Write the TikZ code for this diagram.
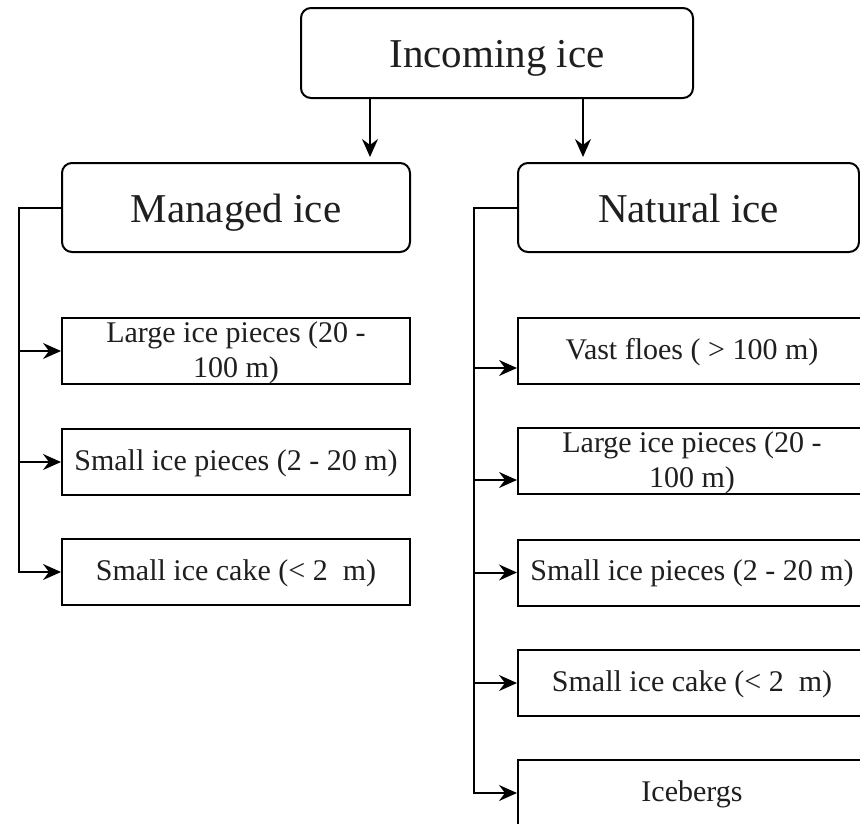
\documentclass[tikz,border=0pt]{standalone}
\usepackage{fontspec}
\setmainfont{Liberation Serif}
\usetikzlibrary{arrows.meta}
\begin{document}
\begin{tikzpicture}[x=1pt,y=-1pt,
  line width=2pt,
  headbox/.style={draw, rounded corners=10pt, inner sep=0pt,
    text height=37pt, text depth=8pt,
    font=\fontsize{41}{46}\selectfont, text=black!88},
  itembox/.style={draw, inner sep=0pt, minimum width=348pt, minimum height=66pt,
    text height=22pt, text depth=6pt,
    font=\fontsize{30}{35}\selectfont, text=black!88},
  twoline/.style={text height=59pt, text depth=6pt},
  arr/.style={-{Stealth[length=18pt,width=16pt,inset=6pt]}}]
\clip (0,0) rectangle (860,823);
\fill[white] (0,0) rectangle (860,823);

% top level
\node[headbox, minimum width=392pt, minimum height=90pt] (inc) at (497,53) {Incoming ice};
\node[headbox, minimum width=348pt, minimum height=89pt] (man) at (236,207.5) {Managed ice};
\node[headbox, minimum width=341pt, minimum height=89pt] (nat) at (688.5,207.5) {Natural ice};

\draw[arr, shorten >=5pt] (inc.south -| 370,0) -- (man.north -| 370,0);
\draw[arr, shorten >=5pt] (inc.south -| 583,0) -- (nat.north -| 583,0);

% managed ice classes
\node[itembox, twoline] (mlarge) at (236,351)
  {\begin{tabular}[b]{@{}c@{}}Large ice pieces (20 -\\100 m)\end{tabular}};
\node[itembox] (msmall) at (236,462) {Small ice pieces (2 - 20 m)};
\node[itembox] (mcake)  at (236,572) {Small ice cake (< 2~~m)};

\coordinate (lt) at (19,0);
\draw[arr] (man.west) -| (lt |- mcake.west) -- (mcake.west);
\draw[arr] (lt |- mlarge.west) -- (mlarge.west);
\draw[arr] (lt |- msmall.west) -- (msmall.west);

% natural ice classes
\node[itembox] (nvast)  at (692,351)   {Vast floes ( > 100 m)};
\node[itembox, twoline] (nlarge) at (692,461)
  {\begin{tabular}[b]{@{}c@{}}Large ice pieces (20 -\\100 m)\end{tabular}};
\node[itembox] (nsmall) at (692,572.5) {Small ice pieces (2 - 20 m)};
\node[itembox] (ncake)  at (692,683)   {Small ice cake (< 2~~m)};
\node[itembox] (nberg)  at (692,793)   {Icebergs};

% entry points of the two upper branches sit below the box centres
\coordinate (vastin)  at ([yshift=-17pt]nvast.west);
\coordinate (largein) at ([yshift=-19pt]nlarge.west);

\coordinate (rt) at (474,0);
\draw[arr] (nat.west) -| (rt |- nberg.west) -- (nberg.west);
\draw[arr] (rt |- vastin) -- (vastin);
\draw[arr] (rt |- largein) -- (largein);
\draw[arr] (rt |- nsmall.west) -- (nsmall.west);
\draw[arr] (rt |- ncake.west) -- (ncake.west);
\end{tikzpicture}
\end{document}
